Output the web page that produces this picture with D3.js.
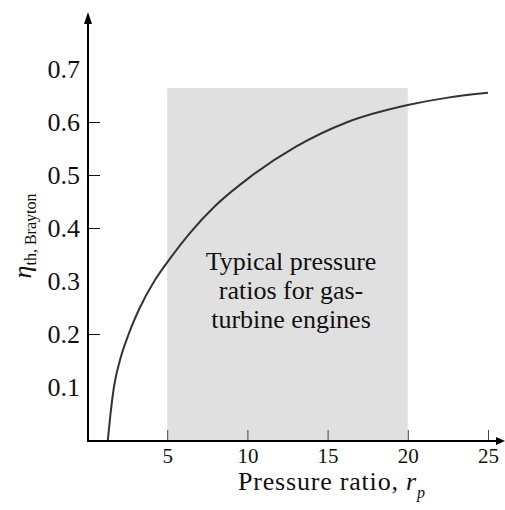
<!DOCTYPE html>
<html>
<head>
<meta charset="utf-8">
<script src="https://cdn.jsdelivr.net/npm/d3@7"></script>
<style>
  body { margin: 0; background: #fff; }
  text { font-family: "Liberation Serif", "DejaVu Serif", serif; fill: #111; }
</style>
</head>
<body>
<script>
// pressure ratio r_p vs. Brayton efficiency
const pressureRatio = [1.3, 1.45, 1.68, 2.05, 2.6, 3.3, 4.2, 5.0, 6.4, 8.0, 10.2, 13, 16.25, 20, 22.5, 25];
const efficiency    = [0, 0.045, 0.10, 0.15, 0.20, 0.25, 0.30, 0.335, 0.39, 0.442, 0.497, 0.553, 0.60, 0.632, 0.646, 0.655];

const xTicks = [5, 10, 15, 20, 25];
const yTicks = [0.1, 0.2, 0.3, 0.4, 0.5, 0.6, 0.7];
const yTickMarks = [0.2, 0.4, 0.5, 0.6];   // only these carry a tick line

const typicalRange = [5, 20];
const typicalTop = 0.664;
const noteLines = ["Typical pressure", "ratios for gas-", "turbine engines"];

const width = 505;
const height = 510;

const svg = d3.select('body')
  .append('svg')
  .attr('width', width)
  .attr('height', height)
  .style('background', '#fff');

const x = d3.scaleLinear().domain([0, 25]).range([87, 488]);
const y = d3.scaleLinear().domain([0, 0.7]).range([440, 69]);

const axisX = 88;
const axisY = 441;

// shaded band of typical ratios
svg.append('rect')
  .attr('x', x(typicalRange[0]))
  .attr('y', y(typicalTop))
  .attr('width', x(typicalRange[1]) - x(typicalRange[0]))
  .attr('height', axisY - y(typicalTop))
  .style('fill', '#e0e0e0');

// note inside band
const note = svg.append('text')
  .attr('text-anchor', 'middle')
  .style('font-size', '26px');
noteLines.forEach((line, i) => {
  note.append('tspan')
    .attr('x', 291)
    .attr('y', 270 + i * 29)
    .text(line);
});

// x-axis
const gx = svg.append('g')
  .attr('transform', `translate(0,${axisY})`)
  .call(d3.axisBottom(x)
    .tickValues(xTicks)
    .tickSize(-11)
    .tickPadding(7)
    .tickFormat(d3.format('d')));
gx.select('.domain').remove();
gx.selectAll('.tick line').attr('stroke', '#444');
gx.selectAll('.tick text')
  .style('font-size', '21px')
  .style('font-family', '"Liberation Serif", serif')
  .attr('fill', '#111');

// y-axis
const gy = svg.append('g')
  .attr('transform', `translate(${axisX},0)`)
  .call(d3.axisLeft(y)
    .tickValues(yTicks)
    .tickSize(-12)
    .tickPadding(8)
    .tickFormat(d3.format('.1f')));
gy.select('.domain').remove();
gy.selectAll('.tick line')
  .attr('stroke', '#111')
  .attr('x2', 12)
  .style('display', d => yTickMarks.includes(d) ? null : 'none');
gy.selectAll('.tick text')
  .style('font-size', '26px')
  .style('font-family', '"Liberation Serif", serif')
  .attr('fill', '#111');

// axis lines with arrow heads
svg.append('line')
  .attr('x1', axisX).attr('y1', axisY)
  .attr('x2', axisX).attr('y2', 20)
  .attr('stroke', '#000').attr('stroke-width', 2);
svg.append('path')
  .attr('d', `M${axisX},12 L${axisX - 4},24 L${axisX + 4},24 Z`)
  .attr('fill', '#000');
svg.append('line')
  .attr('x1', axisX - 1).attr('y1', axisY)
  .attr('x2', 498).attr('y2', axisY)
  .attr('stroke', '#000').attr('stroke-width', 2);
svg.append('path')
  .attr('d', `M505,${axisY} L496,${axisY - 4} L496,${axisY + 4} Z`)
  .attr('fill', '#000');

// efficiency curve
const points = pressureRatio.map((r, i) => ({ r: r, eta: efficiency[i] }));
svg.append('path')
  .datum(points)
  .attr('fill', 'none')
  .attr('stroke', '#333')
  .attr('stroke-width', 2)
  .attr('d', d3.line()
    .x(d => x(d.r))
    .y(d => y(d.eta))
    .curve(d3.curveMonotoneX));

// x label
const xl = svg.append('text')
  .attr('x', 238)
  .attr('y', 490)
  .style('font-size', '26px')
  .style('letter-spacing', '0.8px');
xl.append('tspan').text('Pressure ratio, ');
xl.append('tspan').style('font-style', 'italic').text('r');
xl.append('tspan').style('font-style', 'italic').style('font-size', '16px').attr('dy', 8).text('p');

// y label
const yl = svg.append('text')
  .attr('transform', 'translate(31,236) rotate(-90)')
  .attr('text-anchor', 'middle');
yl.append('tspan').style('font-style', 'italic').style('font-size', '26px').text('η');
yl.append('tspan').style('font-size', '16px').attr('dy', 5).text('th, Brayton');
</script>
</body>
</html>
